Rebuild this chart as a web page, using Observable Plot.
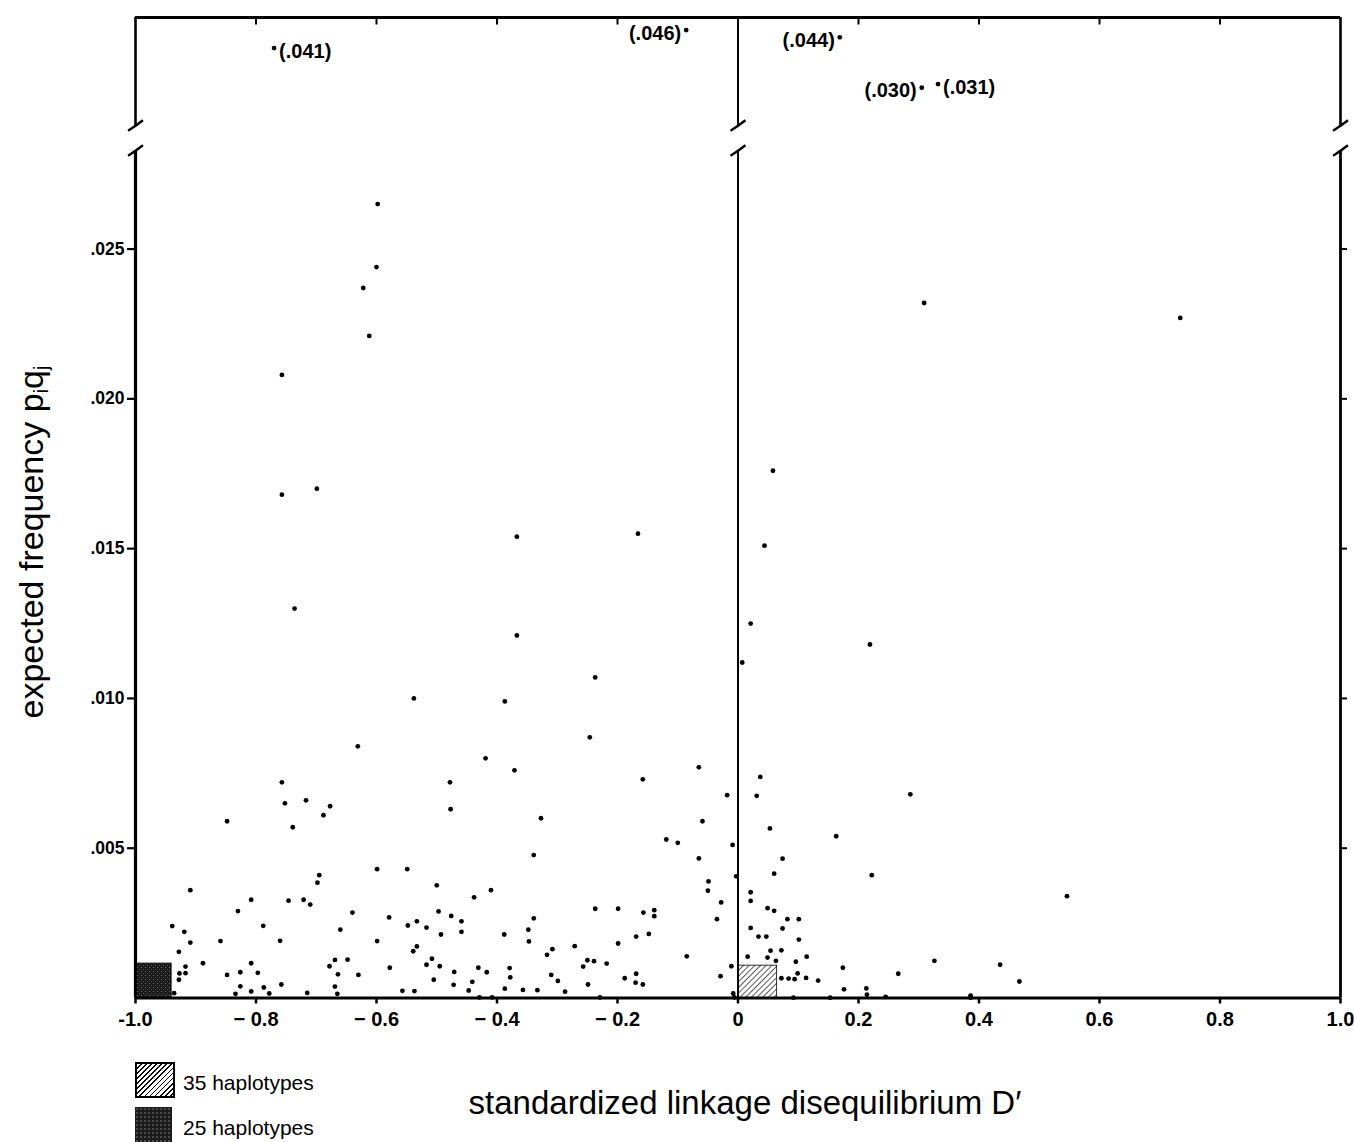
<!DOCTYPE html>
<html><head><meta charset="utf-8">
<script src="https://cdn.jsdelivr.net/npm/d3@7"></script>
<script src="https://cdn.jsdelivr.net/npm/@observablehq/plot@0.6"></script>
<style>
body{margin:0;background:#fff;}
#page{position:relative;width:1354px;height:1142px;font-family:"Liberation Sans",Arial,Helvetica,sans-serif;overflow:hidden;background:#fff;color:#000;}
#top,#main{position:absolute;left:0;}
#top{top:0;}
#main{top:130px;}
#ytitle{position:absolute;left:31px;top:542px;transform:translate(-50%,-50%) rotate(-90deg);white-space:nowrap;font-size:34px;line-height:34px;}
#ytitle sub{font-size:20px;vertical-align:-5px;line-height:0;}
#xtitle{position:absolute;left:345px;width:800px;top:1086px;text-align:center;white-space:nowrap;font-size:33px;line-height:33px;}
.sw{position:absolute;left:135px;box-sizing:border-box;}
#sw1{top:1062px;width:40px;height:36px;border:2px solid #000;background:repeating-linear-gradient(135deg,#fff 0px,#fff 2.4px,#000 2.4px,#000 3.6px);}
#sw2{top:1107px;width:37px;height:36px;background:#1b1b1b;background-image:radial-gradient(#666 0.6px,transparent 0.9px);background-size:4px 4px;}
.lt{position:absolute;left:183px;font-size:21px;line-height:21px;white-space:nowrap;}
</style></head><body>
<div id="page">
  <div id="top"></div>
  <div id="main"></div>
  <div id="ytitle">expected frequency p<sub>i</sub>q<sub>j</sub></div>
  <div id="xtitle">standardized linkage disequilibrium D′</div>
  <div class="sw" id="sw1"></div><div class="lt" style="top:1072px">35 haplotypes</div>
  <div class="sw" id="sw2"></div><div class="lt" style="top:1117px">25 haplotypes</div>
</div>
<script>
// ---- data ----
const dPrime = [
 -0.598,-0.600,-0.622,-0.612,-0.757,-0.757,-0.699,-0.736,-0.367,-0.166,
 -0.367,-0.237,-0.538,-0.387,-0.631,-0.246,-0.419,-0.371,-0.757,-0.478,
 -0.717,-0.158,-0.065,0.007,0.021,0.058,0.044,0.309,0.734,
 0.219,0.286,0.163,0.222,0.546,-0.848,-0.752,-0.739,-0.688,-0.677,
 -0.599,-0.549,-0.909,-0.695,-0.698,-0.746,-0.721,-0.710,-0.808,-0.830,
 -0.500,-0.497,-0.939,-0.919,-0.909,-0.928,-0.888,-0.927,-0.917,-0.917,
 -0.928,-0.936,-0.859,-0.788,-0.760,-0.640,-0.579,-0.548,-0.533,-0.517,
 -0.660,-0.599,-0.533,-0.539,-0.508,-0.517,-0.495,-0.505,-0.808,-0.848,
 -0.826,-0.797,-0.826,-0.808,-0.834,-0.787,-0.778,-0.758,-0.715,-0.678,
 -0.669,-0.664,-0.648,-0.630,-0.669,-0.665,-0.578,-0.557,-0.537,-0.477,
 -0.327,-0.339,-0.018,-0.059,-0.119,-0.100,-0.065,-0.009,-0.003,-0.049,
 -0.050,-0.028,-0.035,-0.085,-0.011,-0.029,-0.008,-0.493,-0.476,-0.459,
 -0.459,-0.438,-0.410,-0.471,-0.472,-0.447,-0.441,-0.431,-0.417,-0.429,
 -0.408,-0.388,-0.379,-0.378,-0.387,-0.357,-0.333,-0.348,-0.347,-0.339,
 -0.317,-0.308,-0.310,-0.299,-0.287,-0.271,-0.257,-0.250,-0.239,-0.249,
 -0.229,-0.237,-0.218,-0.199,-0.199,-0.188,-0.169,-0.169,-0.170,-0.158,
 -0.157,-0.148,-0.139,-0.139,-0.006,
 0.037,0.031,0.053,0.074,0.060,0.021,0.021,0.049,0.060,0.082,
 0.101,0.021,0.074,0.034,0.047,0.101,0.016,0.049,0.054,0.072,
 0.063,0.114,0.096,0.072,0.084,0.094,0.099,0.113,0.133,0.174,
 0.176,0.213,0.214,0.245,0.266,0.326,0.435,0.467,0.386,0.386,
 0.092,0.153
];
const expFreq = [
 .0265,.0244,.0237,.0221,.0208,.0168,.0170,.0130,.0154,.0155,
 .0121,.0107,.0100,.0099,.0084,.0087,.0080,.0076,.0072,.0072,
 .0066,.0073,.0077,.0112,.0125,.0176,.0151,.0232,.0227,
 .0118,.0068,.0054,.0041,.0034,.0059,.0065,.0057,.0061,.0064,
 .0043,.0043,.0036,.0041,.00385,.00325,.00328,.00312,.00328,.0029,
 .00376,.00289,.0024,.00221,.00185,.00154,.00116,.00082,.00105,.00083,
 .00061,.00016,.0019,.00241,.00191,.00285,.00269,.00242,.00256,.00235,
 .00228,.00190,.00172,.00156,.00131,.00111,.00106,.00061,.00116,.00077,
 .00086,.00084,.00039,.00022,.00014,.00035,.00015,.00045,.00017,.00106,
 .00127,.00079,.00128,.00077,.00038,.00014,.00101,.00024,.00023,.0063,
 .0060,.00477,.00677,.0059,.00529,.00518,.00466,.00511,.00406,.00389,
 .00358,.00319,.00263,.00139,.00106,.00073,.00015,.00212,.00274,.00256,
 .00221,.00336,.0036,.00087,.00044,.00025,.00054,.00101,.00086,.00002,
 .00002,.00212,.0010,.00069,.00031,.00027,.00026,.00228,.00189,.00266,
 .00144,.00163,.00077,.00057,.00021,.00173,.00105,.00126,.00123,.00045,
 .00002,.00298,.00115,.00298,.00182,.00066,.00205,.00081,.00051,.00045,
 .00285,.00214,.00293,.00273,.00002,
 .00738,.00675,.00566,.00465,.00415,.00353,.00324,.0030,.00291,.00263,
 .00263,.00234,.00232,.00205,.00205,.00195,.00138,.00135,.00158,.00159,
 .00124,.00138,.00121,.00066,.00065,.00063,.00082,.00067,.00058,.00101,
 .00029,.00032,.00011,.00004,.00081,.00124,.00111,.00055,.00008,.00001,
 .00001,.00001
];
// off-scale points (upper broken panel)
const offD     = [-0.770, -0.086, 0.169, 0.305, 0.332];
const offFreq  = [0.041, 0.046, 0.044, 0.030, 0.031];
const offLabel = ["(.041)", "(.046)", "(.044)", "(.030)", "(.031)"];
const offSide  = ["right", "left", "left", "left", "right"];
// pooled haplotype boxes
const boxLabel = ["35 haplotypes", "25 haplotypes"];
const boxD0    = [0, -1.0];
const boxD1    = [0.065, -0.94];
const boxFreq  = [0.00108, 0.00115];
const boxFill  = ["url(#hatch)", "url(#stipple)"];
// axes
const xTickValues = [-1, -0.8, -0.6, -0.4, -0.2, 0, 0.2, 0.4, 0.6, 0.8, 1];
const xTickLabels = ["-1.0", "− 0.8", "− 0.6", "− 0.4", "− 0.2", "0", "0.2", "0.4", "0.6", "0.8", "1.0"];
const yTickValues = [0.005, 0.010, 0.015, 0.020, 0.025];
const yTickLabels = [".005", ".010", ".015", ".020", ".025"];
const topTickValues = [-0.8, -0.6, -0.4, -0.2, 0.2, 0.4, 0.6, 0.8];
const xDomain = [-1, 1];
const yDomainLower = [0, 0.02829];
const yDomainUpper = [0.0195, 0.0495];
const frameX = [-1, 0, 1];

// ---- build ----
const points = dPrime.map((x, i) => ({x, y: expFreq[i]}));
const offPts = offD.map((x, i) => ({x, y: offFreq[i], label: offLabel[i], side: offSide[i]}));
const boxes = boxLabel.map((l, i) => ({label: l, x1: boxD0[i], x2: boxD1[i], y2: boxFreq[i], fill: boxFill[i]}));
const xLab = new Map(xTickValues.map((v, i) => [v, xTickLabels[i]]));
const yLab = new Map(yTickValues.map((v, i) => [v, yTickLabels[i]]));

const breakSym = {draw(ctx, size) { const r = Math.sqrt(size); ctx.moveTo(-r * 0.6, r * 0.42); ctx.quadraticCurveTo(0, r * 0.05, r * 0.6, -r * 0.42); }};
const tickDown = {draw(ctx, size) { ctx.moveTo(0, 0); ctx.lineTo(0, 7); }};

const W = 1354, ML = 135, MR = 14;
const font = "Liberation Sans, Arial, Helvetica, sans-serif";

const topPlot = Plot.plot({
  width: W, height: 130, marginLeft: ML, marginRight: MR, marginTop: 17, marginBottom: 5,
  x: {domain: xDomain, axis: null},
  y: {domain: yDomainUpper, axis: null},
  style: {background: "none", fontFamily: font, fontSize: "20px", fontWeight: "bold", overflow: "visible"},
  marks: [
    Plot.ruleY([yDomainUpper[1]], {strokeWidth: 2.8}),
    Plot.ruleX(frameX, {strokeWidth: d => d === 0 ? 2 : 2.6}),
    Plot.dot(topTickValues, {x: d => d, y: () => yDomainUpper[1], symbol: tickDown, r: 4, stroke: "black", strokeWidth: 2, fill: "none"}),
    Plot.dot(frameX, {x: d => d, y: () => yDomainUpper[0], symbol: breakSym, r: 7, stroke: "black", strokeWidth: 2.4, fill: "none"}),
    Plot.dot(offPts, {x: "x", y: "y", r: 2.4, fill: "black", stroke: "none"}),
    Plot.text(offPts.filter(d => d.side === "right"), {x: "x", y: "y", text: "label", textAnchor: "start", dx: 5, dy: 3}),
    Plot.text(offPts.filter(d => d.side === "left"), {x: "x", y: "y", text: "label", textAnchor: "end", dx: -5, dy: 3})
  ]
});
document.getElementById("top").appendChild(topPlot);

const mainPlot = Plot.plot({
  width: W, height: 928, marginLeft: ML, marginRight: MR, marginTop: 20, marginBottom: 60.5,
  x: {domain: xDomain},
  y: {domain: yDomainLower},
  style: {background: "none", fontFamily: font, fontSize: "18px", fontWeight: "bold", overflow: "visible"},
  marks: [
    Plot.rect(boxes, {x1: "x1", x2: "x2", y1: 0, y2: "y2", fill: "fill", stroke: "black", strokeWidth: 0.8}),
    Plot.dot(points, {x: "x", y: "y", r: 2.4, fill: "black", stroke: "none"}),
    Plot.ruleY([0], {strokeWidth: 3.2}),
    Plot.ruleX(frameX, {strokeWidth: d => d === -1 ? 3.2 : d === 0 ? 2 : 2.8}),
    Plot.dot(frameX, {x: d => d, y: () => yDomainLower[1], symbol: breakSym, r: 7, stroke: "black", strokeWidth: 2.4, fill: "none"}),
    Plot.axisX({ticks: xTickValues, tickFormat: d => xLab.get(d), tickSize: 6, tickPadding: 8, strokeWidth: 2.5, label: null, fontSize: 20}),
    Plot.axisY({anchor: "left", ticks: yTickValues, tickFormat: d => yLab.get(d), tickSize: 8, tickPadding: 3, strokeWidth: 2.2, label: null, fontSize: 17.5}),
    Plot.axisY({anchor: "right", ticks: yTickValues, tickFormat: () => "", tickSize: 6, strokeWidth: 2, label: null})
  ]
});
// patterns for the pooled boxes
const defs = d3.select(mainPlot).insert("defs", ":first-child");
const hatch = defs.append("pattern").attr("id", "hatch").attr("patternUnits", "userSpaceOnUse")
  .attr("width", 4).attr("height", 4).attr("patternTransform", "rotate(45)");
hatch.append("rect").attr("width", 4).attr("height", 4).attr("fill", "white");
hatch.append("line").attr("x1", 0).attr("y1", 0).attr("x2", 0).attr("y2", 4).attr("stroke", "black").attr("stroke-width", 1.3);
const stip = defs.append("pattern").attr("id", "stipple").attr("patternUnits", "userSpaceOnUse").attr("width", 4).attr("height", 4);
stip.append("rect").attr("width", 4).attr("height", 4).attr("fill", "#1b1b1b");
stip.append("rect").attr("x", 1).attr("y", 1).attr("width", 1).attr("height", 1).attr("fill", "#777");
stip.append("rect").attr("x", 3).attr("y", 3).attr("width", 1).attr("height", 1).attr("fill", "#555");
document.getElementById("main").appendChild(mainPlot);
</script>
</body></html>
